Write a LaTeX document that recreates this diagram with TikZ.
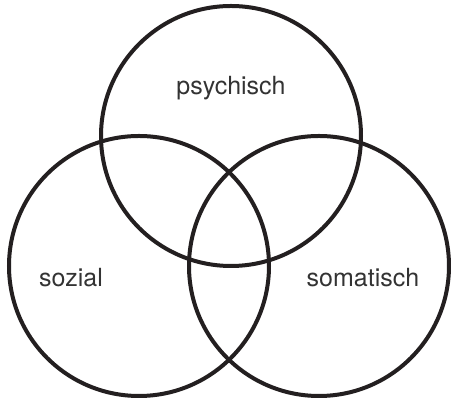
\documentclass[tikz,border=0pt]{standalone}
\usepackage{fontspec}
\setmainfont{TeX Gyre Heros}
\usepackage{tikz}
\usetikzlibrary{positioning,calc}
\definecolor{ringblack}{HTML}{231F20}
\definecolor{labelgrey}{HTML}{333333}
\tikzset{
  ring/.style={
    circle, draw=ringblack, line width=4pt, minimum size=260pt,
    inner sep=0pt
  },
  lbl/.style={
    font=\fontsize{25}{30}\selectfont, color=labelgrey, inner sep=0pt
  },
}

\begin{document}
\begin{tikzpicture}[x=1pt,y=1pt]
  \useasboundingbox (0,0) rectangle (451,398);
  \node[ring] (psy) at (231,262) {};
  \node[ring] (soz) at (139,132) {};
  \node[ring] (som) at (319,132) {};

  \node[lbl] (psylbl) at ($(psy.center)+(0,48)$) {psychisch};
  \node[lbl] (sozlbl) at ($(soz.center)+(-68,-12)$) {sozial};
  \node[lbl] (somlbl) at ($(som.center)+(44,-12)$) {somatisch};
\end{tikzpicture}
\end{document}
